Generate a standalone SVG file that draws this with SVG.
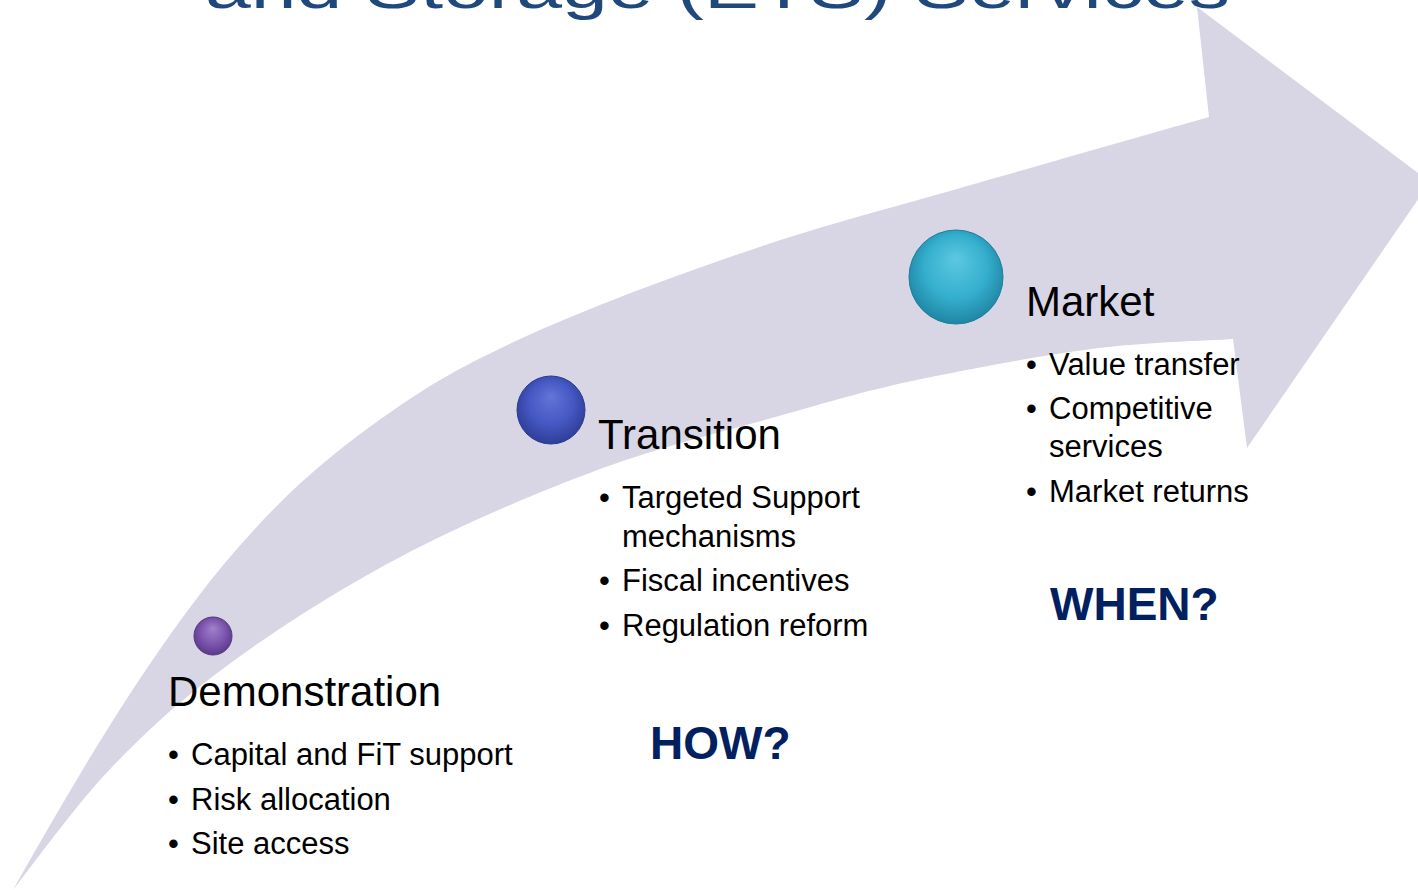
<svg xmlns="http://www.w3.org/2000/svg" width="1418" height="890" viewBox="0 0 1418 890">
<defs>
<style>
.t{font-family:"Liberation Sans",Arial,sans-serif;fill:#000}
.h{font-size:42px}
.b{font-size:31px}
.q{font-family:"Liberation Sans",Arial,sans-serif;font-weight:bold;font-size:46px;fill:#002060}
.title{font-family:"Liberation Sans",Arial,sans-serif;font-size:60px;fill:#1F497D}
</style>
<radialGradient id="gPurple" cx="50%" cy="45%" r="55%" fx="50%" fy="30%">
<stop offset="0" stop-color="#A281CB"/><stop offset="0.6" stop-color="#7C55AE"/><stop offset="1" stop-color="#5B3B8A"/>
</radialGradient>
<radialGradient id="gBlue" cx="50%" cy="45%" r="55%" fx="50%" fy="30%">
<stop offset="0" stop-color="#6275D8"/><stop offset="0.6" stop-color="#4557C2"/><stop offset="1" stop-color="#2E3E98"/>
</radialGradient>
<radialGradient id="gCyan" cx="50%" cy="45%" r="55%" fx="50%" fy="30%">
<stop offset="0" stop-color="#5CC8E2"/><stop offset="0.6" stop-color="#35AFCE"/><stop offset="1" stop-color="#1F86A4"/>
</radialGradient>
</defs>
<rect width="1418" height="890" fill="#FFFFFF"/>
<text class="title" x="205" y="8" textLength="1025" lengthAdjust="spacingAndGlyphs">and Storage (ETS) Services</text>
<g id="connectors">
<path id="arrow" fill="#D8D5E5" d="M 13,890 C 20.8,876.3 43.5,836 60,808 C 76.5,780 93.7,750.8 112,722 C 130.3,693.2 150.3,662.5 170,635 C 189.7,607.5 208.3,582.3 230,557 C 251.7,531.8 275,506.4 300,483.5 C 325,460.6 351.7,439.5 380,419.5 C 408.3,399.5 433.3,382.6 470,363.5 C 506.7,344.4 548.5,325.5 600,305 C 651.5,284.5 719.5,259.9 779,240.6 C 838.5,221.3 885.3,209.6 957,189 C 1028.7,168.4 1167,129 1209,117 L 1197,7 L 1430,182 L 1247,448 L 1233,339 C 1209.3,340.7 1144.5,342 1091,349 C 1037.5,356 964,369.8 912,381 C 860,392.2 831,401.3 779,416 C 727,430.7 662.8,445.7 600,469 C 537.2,492.3 463.3,523.8 402,556 C 340.7,588.2 280.3,626.8 232,662 C 183.7,697.2 148.5,729 112,767 C 75.5,805 29.5,869.5 13,890 Z"/>
</g>
<g id="node-demonstration">
<circle cx="213" cy="636" r="19" fill="url(#gPurple)" stroke="#553680" stroke-width="1"/>
<text class="t h" x="168" y="706">Demonstration</text>
<text class="t b" x="168" y="765">•</text><text class="t b" x="191" y="765">Capital and FiT support</text>
<text class="t b" x="168" y="810">•</text><text class="t b" x="191" y="810">Risk allocation</text>
<text class="t b" x="168" y="854">•</text><text class="t b" x="191" y="854">Site access</text>
</g>
<g id="node-transition">
<circle cx="551" cy="410" r="34" fill="url(#gBlue)" stroke="#2C3B90" stroke-width="1"/>
<text class="t h" x="598" y="449">Transition</text>
<text class="t b" x="599" y="508">•</text><text class="t b" x="622" y="508">Targeted Support</text>
<text class="t b" x="622" y="547">mechanisms</text>
<text class="t b" x="599" y="591">•</text><text class="t b" x="622" y="591">Fiscal incentives</text>
<text class="t b" x="599" y="636">•</text><text class="t b" x="622" y="636">Regulation reform</text>
</g>
<g id="node-market">
<circle cx="956" cy="277" r="47" fill="url(#gCyan)" stroke="#1D7F9B" stroke-width="1"/>
<text class="t h" x="1026" y="316">Market</text>
<text class="t b" x="1026" y="375">•</text><text class="t b" x="1049" y="375">Value transfer</text>
<text class="t b" x="1026" y="419">•</text><text class="t b" x="1049" y="419">Competitive</text>
<text class="t b" x="1049" y="457">services</text>
<text class="t b" x="1026" y="502">•</text><text class="t b" x="1049" y="502">Market returns</text>
</g>
<g id="label-how"><text class="q" x="650" y="759">HOW?</text></g>
<g id="label-when"><text class="q" x="1050" y="620">WHEN?</text></g>
</svg>
